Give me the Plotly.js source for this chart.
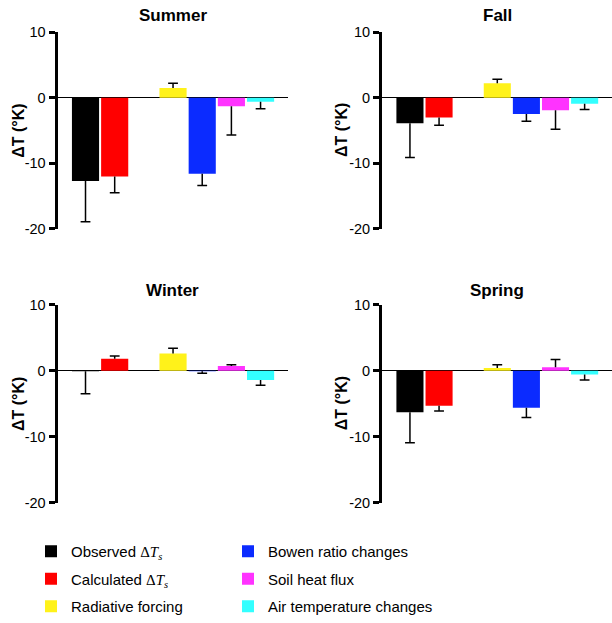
<!DOCTYPE html>
<html><head><meta charset="utf-8">
<script src="https://cdn.plot.ly/plotly-3.0.1.min.js"></script>
<style>html,body{margin:0;padding:0;background:#fff;width:612px;height:623px;overflow:hidden}#chart{position:absolute;left:0;top:0;width:612px;height:623px}</style>
</head><body><div id="chart"></div>
<script>
// ---- data ----
const seasons = ['Summer', 'Fall', 'Winter', 'Spring'];
const categories = ['Observed ΔTs', 'Calculated ΔTs', 'Radiative forcing',
  'Bowen ratio changes', 'Soil heat flux', 'Air temperature changes'];
const legendLabels = [
  'Observed <span style="font-family:\'Liberation Serif\',serif">Δ<i>T</i><sub><i>s</i></sub></span>',
  'Calculated <span style="font-family:\'Liberation Serif\',serif">Δ<i>T</i><sub><i>s</i></sub></span>',
  'Radiative forcing', 'Bowen ratio changes', 'Soil heat flux', 'Air temperature changes'];
const summerValues = [-12.7, -12.0, 1.5, -11.6, -1.3, -0.6];
const summerErrors = [6.2, 2.5, 0.7, 1.8, 4.4, 1.1];
const fallValues = [-3.9, -3.0, 2.2, -2.5, -1.9, -0.9];
const fallErrors = [5.2, 1.2, 0.6, 1.1, 2.9, 0.9];
const winterValues = [-0.1, 1.8, 2.6, -0.1, 0.7, -1.4];
const winterErrors = [3.4, 0.4, 0.8, 0.3, 0.2, 0.8];
const springValues = [-6.3, -5.3, 0.4, -5.6, 0.5, -0.6];
const springErrors = [4.6, 0.8, 0.5, 1.5, 1.2, 0.8];
const tickValues = [10, 0, -10, -20];
const tickLabels = ['10', '0', '-10', '-20'];

// ---- styles / layout ----
const colors = ['#000000', '#FF0000', '#FFF21A', '#0B2BFF', '#FF33FF', '#33FFFF'];
const seasonValues = [summerValues, fallValues, winterValues, springValues];
const seasonErrors = [summerErrors, fallErrors, winterErrors, springErrors];
const W = 612, H = 623;
const colX = [[57.5 / W, 288 / W], [382 / W, 612 / W]];
const rowY = [[1 - 230 / H, 1 - 32.3 / H], [1 - 505.3 / H, 1 - 306 / H]];
const font = 'Liberation Sans, Arial, Helvetica, sans-serif';
const slot = i => (i < 2 ? i : i + 1);

const traces = [];
const layout = {
  width: W, height: H,
  margin: {l: 0, r: 0, t: 0, b: 0},
  paper_bgcolor: '#fff', plot_bgcolor: 'rgba(0,0,0,0)',
  barmode: 'overlay',
  font: {family: font, color: '#000'},
  showlegend: true,
  legend: {x: 31 / W, xanchor: 'left', y: 1 - 538 / H, yanchor: 'top',
    font: {family: font, size: 15, color: '#000'}, tracegroupgap: 5, bgcolor: 'rgba(0,0,0,0)'},
  legend2: {x: 228 / W, xanchor: 'left', y: 1 - 538 / H, yanchor: 'top',
    font: {family: font, size: 15, color: '#000'}, tracegroupgap: 5, bgcolor: 'rgba(0,0,0,0)'},
  annotations: []
};

seasons.forEach((season, s) => {
  const col = s % 2, row = Math.floor(s / 2);
  const xa = 'x' + (s === 0 ? '' : s + 1), ya = 'y' + (s === 0 ? '' : s + 1);
  const vals = seasonValues[s], errs = seasonErrors[s];
  categories.forEach((cat, i) => {
    const v = vals[i], e = errs[i];
    traces.push({
      type: 'bar', name: legendLabels[i], legendgroup: cat,
      legend: i < 3 ? 'legend' : 'legend2',
      showlegend: s === 0,
      x: [slot(i)], y: [v], width: 0.93,
      marker: {color: colors[i], line: {width: 0}},
      error_y: {type: 'data', symmetric: false,
        array: [v >= 0 ? e : 0], arrayminus: [v < 0 ? e : 0],
        width: 0, thickness: 1.5, color: '#000'},
      xaxis: xa, yaxis: ya, hoverinfo: 'name+y'
    });
  });
  // caps of the one-sided error bars
  traces.push({
    type: 'scatter', mode: 'markers', showlegend: false, hoverinfo: 'skip',
    x: categories.map((c, i) => slot(i)),
    y: vals.map((v, i) => v >= 0 ? v + errs[i] : v - errs[i]),
    marker: {symbol: 'line-ew', size: 7, color: '#000', line: {width: 1.5, color: '#000'}},
    xaxis: xa, yaxis: ya
  });
  const xk = 'xaxis' + (s === 0 ? '' : s + 1), yk = 'yaxis' + (s === 0 ? '' : s + 1);
  layout[xk] = {domain: colX[col], range: [-0.96, 6.94], showline: false, showgrid: false,
    zeroline: false, showticklabels: false, ticks: '', anchor: ya, fixedrange: true};
  layout[yk] = {domain: rowY[row], range: [-20, 10], anchor: xa,
    showline: true, linewidth: 3, linecolor: '#000', mirror: false,
    ticks: 'outside', ticklen: 6, tickwidth: 3, tickcolor: '#000',
    tickvals: tickValues, ticktext: tickLabels,
    tickfont: {family: font, size: 14.5, color: '#000'},
    showgrid: false, zeroline: true, zerolinecolor: '#000', zerolinewidth: 1.5,
    fixedrange: true};
  const cx = (colX[col][0] + colX[col][1]) / 2;
  layout.annotations.push({
    xref: 'paper', yref: 'paper', x: cx, y: row === 0 ? 1 - 16 / H : 1 - 292 / H,
    xanchor: 'center', yanchor: 'middle', showarrow: false,
    text: '<b>' + season + '</b>', font: {family: font, size: 17, color: '#000'}
  });
  layout.annotations.push({
    xref: 'paper', yref: 'paper', x: (col === 0 ? 18.3 : 341.5) / W,
    y: (rowY[row][0] + rowY[row][1]) / 2,
    xanchor: 'center', yanchor: 'middle', showarrow: false, textangle: -90,
    text: '<b>ΔT (°K)</b>', font: {family: font, size: 16, color: '#000'}
  });
});

Plotly.newPlot('chart', traces, layout, {displayModeBar: false, staticPlot: true});
</script></body></html>
